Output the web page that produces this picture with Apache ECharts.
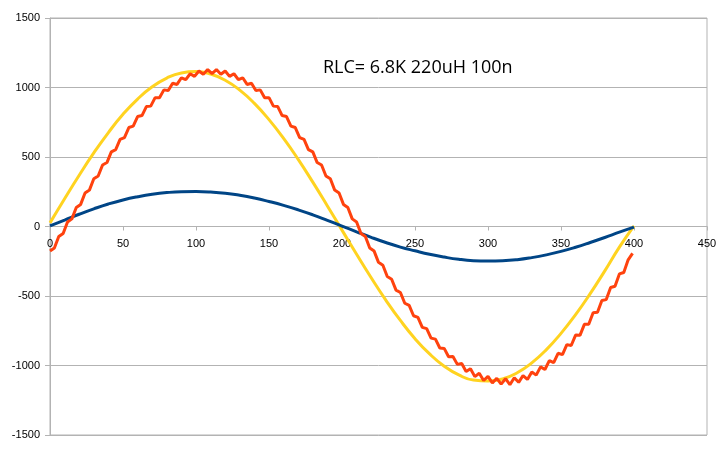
<!DOCTYPE html>
<html>
<head>
<meta charset="utf-8">
<script src="https://cdn.jsdelivr.net/npm/echarts@6/dist/echarts.min.js"></script>
<style>
html,body{margin:0;padding:0;background:#fff;}
#chart{width:726px;height:452px;}
</style>
</head>
<body>
<div id="chart"></div>
<script>
const titleText = "RLC= 6.8K 220uH 100n";

const xSmooth = [0,10,20,30,40,50,60,70,80,90,100,110,120,130,140,150,160,170,180,190,200,
  210,220,230,240,250,260,270,280,290,300,310,320,330,340,350,360,370,380,390,400];

const yellowValues = [26,200,369,529,676,807,917,1005,1068,1105,1115,1097,1052,981,886,769,634,483,319,148,-26,
  -200,-369,-529,-676,-807,-917,-1005,-1068,-1105,-1112,-1097,-1052,-981,-886,-769,-634,-483,-319,-148,5];

const blueValues = [5,46,88,127,162,191,214,232,244,250,251,248,240,225,205,180,152,120,84,44,3,
  -38,-78,-115,-148,-175,-200,-220,-236,-246,-249,-247,-239,-224,-204,-179,-149,-115,-79,-41,-5];

const xRed = [0,3,6,9,12,15,18,21,24,27,30,33,36,39,42,45,48,51,54,57,60,63,66,69,72,75,78,81,84,87,
  90,93,96,99,102,105,108,111,114,117,120,123,126,129,132,135,138,141,144,147,150,153,156,159,162,165,168,171,174,177,
  180,183,186,189,192,195,198,201,204,207,210,213,216,219,222,225,228,231,234,237,240,243,246,249,252,255,258,261,264,267,
  270,273,276,279,282,285,288,291,294,297,300,303,306,309,312,315,318,321,324,327,330,333,336,339,342,345,348,351,354,357,
  360,363,366,369,372,375,378,381,384,387,390,393,396,399];

const redValues = [-177,-155,-72,-50,33,55,137,159,241,262,343,363,442,460,537,553,627,640,712,722,
  791,798,863,866,927,926,983,978,1031,1022,1070,1056,1099,1080,1119,1095,1129,1100,1129,1095,
  1119,1080,1099,1056,1070,1022,1031,978,983,926,927,866,863,798,791,722,712,640,627,553,
  537,460,442,363,343,262,241,159,137,55,33,-50,-72,-155,-177,-258,-279,-360,-379,-458,
  -475,-552,-568,-642,-654,-726,-735,-803,-810,-874,-877,-937,-936,-992,-986,-1043,-1023,-1080,-1056,-1108,
  -1078,-1126,-1092,-1134,-1095,-1138,-1088,-1121,-1072,-1100,-1046,-1069,-1010,-1029,-965,-980,-912,-922,-850,-856,
  -781,-783,-704,-703,-621,-617,-532,-526,-439,-430,-341,-331,-240,-194];

function pairs(xs, ys){ return xs.map((x,i)=>[x, ys[i]]); }

const W = 726, H = 452, GT = 18, GB = 17;
const chart = echarts.init(document.getElementById('chart'), null, {renderer:'canvas', width:W, height:H});
const gray = '#b3b3b3';
const labelFont = {color:'#000', fontFamily:'Liberation Sans, Arial, sans-serif', fontSize:11};

chart.setOption({
  animation:false,
  backgroundColor:'#fff',
  title:{
    text:titleText, left:323, top:59, padding:0,
    textStyle:{fontFamily:'Open Sans', fontSize:18, fontWeight:'normal', color:'#000'}
  },
  grid:{left:50, right:19, top:GT, bottom:GB, containLabel:false,
        show:true, borderColor:gray, borderWidth:1, backgroundColor:'transparent'},
  xAxis:{
    type:'value', min:0, max:450, interval:50, position:'bottom',
    offset: -(H - GT - GB) / 2,
    axisLine:{show:true, onZero:false, lineStyle:{color:gray, width:1}},
    axisTick:{show:true, length:4, lineStyle:{color:gray}},
    axisLabel:Object.assign({margin:12, showMinLabel:true, showMaxLabel:true, hideOverlap:false,
      formatter:(v)=>String(v)}, labelFont),
    splitLine:{show:false}
  },
  yAxis:{
    type:'value', min:-1500, max:1500, interval:500,
    axisLine:{show:true, onZero:false, lineStyle:{color:gray, width:1}},
    axisTick:{show:true, length:5, lineStyle:{color:gray}},
    axisLabel:Object.assign({margin:10, formatter:(v)=>String(v)}, labelFont),
    splitLine:{show:true, lineStyle:{color:gray, width:1}}
  },
  series:[
    {type:'line', data:pairs(xSmooth, yellowValues), smooth:true, showSymbol:false,
     lineStyle:{color:'#ffd320', width:3}, itemStyle:{color:'#ffd320'}},
    {type:'line', data:pairs(xSmooth, blueValues), smooth:true, showSymbol:false,
     lineStyle:{color:'#004586', width:3}, itemStyle:{color:'#004586'}},
    {type:'line', data:pairs(xRed, redValues), showSymbol:false,
     lineStyle:{color:'#ff420e', width:3}, itemStyle:{color:'#ff420e'}}
  ]
});
</script>
</body>
</html>
